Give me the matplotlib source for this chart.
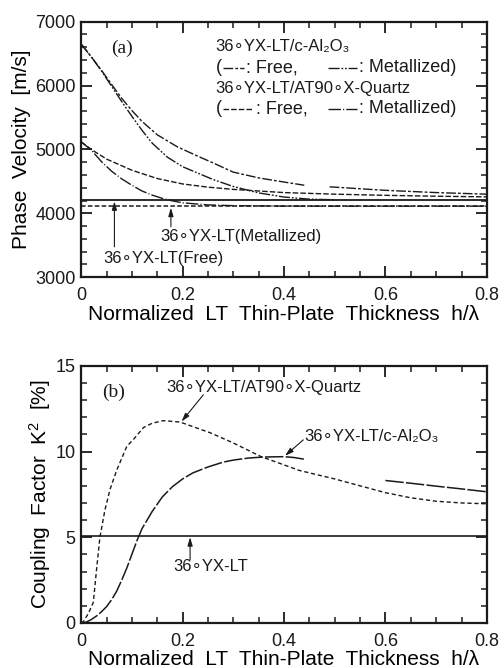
import numpy as np
import matplotlib
matplotlib.use('Agg')
import matplotlib.pyplot as plt
from matplotlib.ticker import MultipleLocator, FixedLocator, FixedFormatter

plt.rcParams['font.family'] = ['Liberation Sans', 'DejaVu Sans']
plt.rcParams['mathtext.fontset'] = 'custom'
plt.rcParams['mathtext.rm'] = 'Liberation Sans'
plt.rcParams['mathtext.it'] = 'Liberation Sans:italic'

# ---------------- data: panel (a) phase velocity ----------------
h_al_free = [0, 0.02, 0.04, 0.06, 0.08, 0.10, 0.12, 0.15, 0.19, 0.23, 0.26, 0.30, 0.35, 0.40, 0.44,
             0.465, 0.49, 0.55, 0.60, 0.70, 0.80]
v_al_free = [6650, 6450, 6240, 6020, 5800, 5610, 5440, 5230, 5040, 4895, 4790, 4645, 4555, 4490, 4440,
             np.nan, 4415, 4385, 4360, 4325, 4300]
h_al_met = [0, 0.02, 0.04, 0.06, 0.08, 0.10, 0.12, 0.14, 0.17, 0.20, 0.23, 0.26, 0.30, 0.35, 0.40, 0.45, 0.50]
v_al_met = [6650, 6450, 6230, 5990, 5750, 5520, 5300, 5100, 4880, 4730, 4630, 4530, 4420, 4320, 4255, 4222, 4213]
h_qz_free = [0, 0.02, 0.05, 0.10, 0.15, 0.20, 0.25, 0.30, 0.40, 0.50, 0.60, 0.70, 0.80]
v_qz_free = [5120, 5000, 4850, 4675, 4545, 4460, 4410, 4375, 4325, 4300, 4282, 4268, 4258]
h_qz_met = [0, 0.02, 0.04, 0.06, 0.08, 0.10, 0.12, 0.14, 0.16, 0.18, 0.20, 0.25, 0.30, 0.40, 0.50, 0.80]
v_qz_met = [5120, 4990, 4810, 4660, 4540, 4440, 4350, 4285, 4235, 4195, 4165, 4132, 4120, 4113, 4112, 4112]
v_lt_free = 4212
v_lt_met = 4112

# ---------------- data: panel (b) coupling factor ----------------
h_k_qz = [0, 0.005, 0.015, 0.024, 0.031, 0.037, 0.047, 0.057, 0.07, 0.09, 0.103, 0.123, 0.14, 0.162,
          0.195, 0.23, 0.254, 0.30, 0.355, 0.43, 0.50, 0.55, 0.60, 0.65, 0.70, 0.75, 0.80]
k_qz = [0, 0.1, 0.6, 1.2, 3.3, 5.0, 6.6, 7.8, 8.9, 10.3, 10.7, 11.4, 11.65, 11.8,
        11.72, 11.35, 11.1, 10.5, 9.7, 8.9, 8.4, 8.0, 7.6, 7.3, 7.1, 7.0, 6.95]
h_k_al = [0, 0.01, 0.02, 0.03, 0.04, 0.05, 0.06, 0.07, 0.08, 0.09, 0.10, 0.11, 0.12, 0.14, 0.16, 0.18,
          0.20, 0.22, 0.25, 0.28, 0.30, 0.33, 0.36, 0.40, 0.42, 0.44, 0.52, 0.60, 0.65, 0.70, 0.75, 0.80]
k_al = [0, 0.05, 0.2, 0.4, 0.65, 0.95, 1.35, 1.85, 2.5, 3.2, 4.0, 4.8, 5.5, 6.5, 7.35, 7.95,
        8.4, 8.75, 9.1, 9.38, 9.5, 9.62, 9.68, 9.7, 9.65, 9.55, np.nan, 8.31, 8.15, 7.98, 7.82, 7.65]
k_lt = 5.1

xticks = [0, 0.2, 0.4, 0.6, 0.8]
xtick_labels = ['0', '0.2', '0.4', '0.6', '0.8']
yticks_a = [3000, 4000, 5000, 6000, 7000]
yticks_b = [0, 5, 10, 15]

DEG = '\u2218'
AL2O3 = 'c-Al\u2082O\u2083'
INK = '#1a1a1a'

ls_al_free = (0, (7, 1.5, 2, 1.5))
ls_al_met = (0, (8, 1.3, 1.3, 1.3, 1.3, 1.3))
ls_qz_free = (0, (4, 1.5))
ls_qz_met = (0, (9, 1.5, 0.8, 1.5))

fig = plt.figure(figsize=(5.04, 6.68), dpi=100)
axa = fig.add_axes([0.161, 0.585, 0.805, 0.3825])
axb = fig.add_axes([0.161, 0.0674, 0.805, 0.385])

def style(ax, ylocs, yminor):
    ax.set_xlim(0, 0.8)
    ax.xaxis.set_major_locator(FixedLocator(xticks))
    ax.xaxis.set_major_formatter(FixedFormatter(xtick_labels))
    ax.xaxis.set_minor_locator(MultipleLocator(0.05))
    ax.yaxis.set_major_locator(FixedLocator(ylocs))
    ax.yaxis.set_minor_locator(MultipleLocator(yminor))
    ax.tick_params(which='both', direction='in', top=True, right=True, colors=INK)
    ax.tick_params(which='major', length=8, width=1.3, labelsize=13)
    ax.tick_params(axis='x', which='major', pad=7)
    ax.tick_params(axis='y', which='major', pad=4)
    ax.tick_params(which='minor', length=4, width=1.1)
    for s in ax.spines.values():
        s.set_linewidth(1.6)
        s.set_color(INK)

# ---------------- panel (a) ----------------
lw = 1.0
axa.plot(h_al_free, v_al_free, color=INK, lw=lw, ls=ls_al_free)
axa.plot(h_al_met, v_al_met, color=INK, lw=lw, ls=ls_al_met)
axa.plot(h_qz_free, v_qz_free, color=INK, lw=lw, ls=ls_qz_free)
axa.plot(h_qz_met, v_qz_met, color=INK, lw=lw, ls=ls_qz_met)
axa.axhline(v_lt_free, color=INK, lw=1.3)
axa.axhline(v_lt_met, color=INK, lw=1.1, ls=(0, (3, 1.5)))
axa.set_ylim(3000, 7000)
style(axa, yticks_a, 200)
axa.set_ylabel('Phase  Velocity  [m/s]', fontsize=15)
axa.yaxis.set_label_coords(-0.123, 0.5)
axa.set_xlabel('Normalized  LT  Thin-Plate  Thickness  h/\u03bb', fontsize=15)
axa.xaxis.set_label_coords(0.5, -0.108)

axa.text(0.080, 6588, '(a)', fontsize=14, family='Liberation Serif', ha='center', va='center', color=INK)

fs = 12
fs2 = 13
rows = [0.904, 0.819, 0.738, 0.659]
axa.text(0.331, rows[0], '36' + DEG + 'YX-LT/' + AL2O3, transform=axa.transAxes,
         fontsize=fs, va='center', color=INK)
axa.text(0.331, rows[2], '36' + DEG + 'YX-LT/AT90' + DEG + 'X-Quartz', transform=axa.transAxes,
         fontsize=fs, va='center', color=INK)
legend_rows = [
    (rows[1], ls_al_free, (0.349, 0.401), 0.407, ls_al_met),
    (rows[3], ls_qz_free, (0.349, 0.424), 0.430, ls_qz_met),
]
for row, s1, seg1, free_x, s2 in legend_rows:
    axa.text(0.331, row, '(', transform=axa.transAxes, fontsize=fs2, va='center', ha='left', color=INK)
    axa.plot(list(seg1), [row, row], transform=axa.transAxes, color=INK, lw=1.0, ls=s1)
    axa.text(free_x, row, ': Free,', transform=axa.transAxes, fontsize=fs2, va='center', ha='left', color=INK)
    axa.plot([0.608, 0.680], [row, row], transform=axa.transAxes, color=INK, lw=1.0, ls=s2)
    axa.text(0.686, row, ': Metallized)', transform=axa.transAxes, fontsize=fs2, va='center', ha='left', color=INK)

arrow = dict(arrowstyle='-|>,head_length=0.5,head_width=0.15', color=INK, lw=0.8, shrinkA=0, shrinkB=0)
axa.annotate('', xy=(0.177, v_lt_met - 25), xytext=(0.177, 3790), arrowprops=arrow)
axa.text(0.156, 3631, '36' + DEG + 'YX-LT(Metallized)', fontsize=fs, va='center', ha='left', color=INK)
axa.annotate('', xy=(0.0656, v_lt_free - 25), xytext=(0.0656, 3475), arrowprops=arrow)
axa.text(0.0433, 3298, '36' + DEG + 'YX-LT(Free)', fontsize=fs, va='center', ha='left', color=INK)

# ---------------- panel (b) ----------------
axb.plot(h_k_qz, k_qz, color=INK, lw=lw, ls=(0, (3, 2)))
axb.plot(h_k_al, k_al, color=INK, lw=1.1, ls=(0, (12, 1.5)))
axb.axhline(k_lt, color=INK, lw=1.2)
axb.set_ylim(0, 15)
style(axb, yticks_b, 1)
axb.set_ylabel('Coupling  Factor  K$^2$  [%]', fontsize=15)
axb.yaxis.set_label_coords(-0.07, 0.5)
axb.set_xlabel('Normalized  LT  Thin-Plate  Thickness  h/\u03bb', fontsize=15)
axb.xaxis.set_label_coords(0.5, -0.104)

axb.text(0.063, 13.43, '(b)', fontsize=14, family='Liberation Serif', ha='center', va='center', color=INK)
axb.text(0.1675, 13.76, '36' + DEG + 'YX-LT/AT90' + DEG + 'X-Quartz', fontsize=fs, va='center', ha='left', color=INK)
axb.annotate('', xy=(0.198, 11.75), xytext=(0.241, 13.31), arrowprops=arrow)
axb.text(0.441, 10.88, '36' + DEG + 'YX-LT/' + AL2O3, fontsize=fs, va='center', ha='left', color=INK)
axb.annotate('', xy=(0.402, 9.75), xytext=(0.438, 10.68), arrowprops=arrow)
axb.text(0.181, 3.27, '36' + DEG + 'YX-LT', fontsize=fs, va='center', ha='left', color=INK)
axb.annotate('', xy=(0.2148, k_lt - 0.1), xytext=(0.2148, 3.68), arrowprops=arrow)

fig.savefig('out.png', dpi=100, facecolor='white')
